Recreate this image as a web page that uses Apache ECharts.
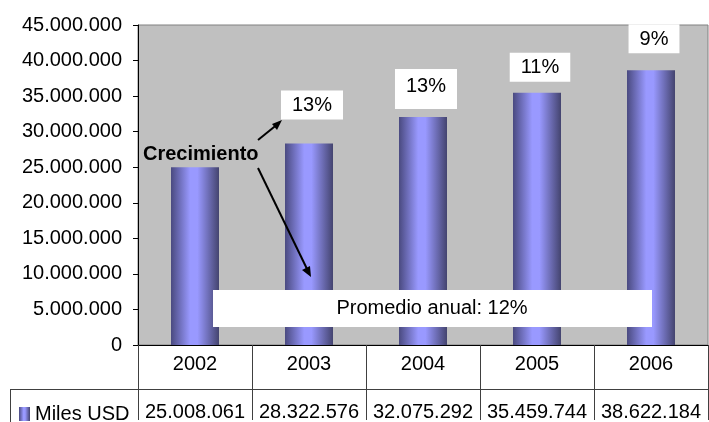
<!DOCTYPE html>
<html>
<head>
<meta charset="utf-8">
<script src="https://cdn.jsdelivr.net/npm/echarts@6/dist/echarts.min.js"></script>
<style>
  html, body { margin: 0; padding: 0; background: #fff; }
  #crecimiento { width: 709px; height: 422px; }
</style>
</head>
<body>
<div id="crecimiento"></div>
<script>
// datos del gráfico
var years = ['2002', '2003', '2004', '2005', '2006'];
var milesUSD = [25008061, 28322576, 32075292, 35459744, 38622184];
var growth = [null, 13, 13, 11, 9];
var yTicks = [0, 5000000, 10000000, 15000000, 20000000, 25000000, 30000000, 35000000, 40000000, 45000000];

// separación y relleno de las etiquetas (estilo, no datos)
var labelGap = [0, 24, 8, 11, 17];
var labelPad = [
    null,
    [5, 11, 4, 11],
    [8, 11, 12, 11],
    [5, 11, 4, 11],
    [5, 11, 4, 11]
];

var FONT = '"Liberation Sans", Arial, sans-serif';

function fmt (n) {
    return String(n).replace(/\B(?=(\d{3})+(?!\d))/g, '.');
}

var barColor = new echarts.graphic.LinearGradient(0, 0, 1, 0, [
    { offset: 0, color: '#4a4a80' },
    { offset: 0.4, color: '#9999ff' },
    { offset: 0.55, color: '#9999ff' },
    { offset: 1, color: '#44446f' }
]);

var chart = echarts.init(document.getElementById('crecimiento'));

var option = {
    backgroundColor: '#fff',
    animation: false,
    textStyle: { fontFamily: FONT },
    grid: {
        left: 138,
        right: 1,
        top: 25,
        bottom: 75,
        show: true,
        backgroundColor: '#c0c0c0',
        borderColor: '#808080',
        borderWidth: 1
    },
    legend: {
        data: ['Miles USD'],
        left: 14,
        top: 399,
        icon: 'rect',
        itemWidth: 11,
        itemHeight: 14,
        itemGap: 6,
        textStyle: { fontSize: 20, color: '#000', fontFamily: FONT }
    },
    xAxis: {
        type: 'category',
        data: years,
        axisLine: { show: true, lineStyle: { color: '#000', width: 1 } },
        axisTick: { show: true, length: 75, lineStyle: { color: '#404040' } },
        axisLabel: {
            margin: 4,
            formatter: function (v, i) {
                return '{y|' + v + '}\n{v|' + fmt(milesUSD[i]) + '}';
            },
            rich: {
                y: { fontSize: 20, lineHeight: 30, color: '#000', fontFamily: FONT },
                v: { fontSize: 20, lineHeight: 66, color: '#000', fontFamily: FONT }
            }
        }
    },
    yAxis: {
        type: 'value',
        min: yTicks[0],
        max: yTicks[yTicks.length - 1],
        interval: yTicks[1] - yTicks[0],
        axisLine: { show: true, lineStyle: { color: '#000', width: 1 } },
        axisTick: { show: true, length: 5, lineStyle: { color: '#000' } },
        splitLine: { show: false },
        axisLabel: {
            margin: 16,
            fontSize: 20,
            color: '#000',
            fontFamily: FONT,
            formatter: function (v) { return fmt(v); }
        }
    },
    series: [{
        name: 'Miles USD',
        type: 'bar',
        barWidth: 48,
        itemStyle: { color: barColor },
        data: milesUSD.map(function (v, i) {
            var item = { value: v };
            if (growth[i] != null) {
                item.label = {
                    show: true,
                    position: 'top',
                    distance: labelGap[i],
                    offset: [3, 0],
                    formatter: growth[i] + '%',
                    backgroundColor: '#fff',
                    padding: labelPad[i],
                    fontSize: 20,
                    color: '#000',
                    fontFamily: FONT
                };
            }
            return item;
        })
    }],
    graphic: [
        // líneas de la tabla de datos
        { type: 'line', shape: { x1: 10, y1: 389.5, x2: 708, y2: 389.5 }, style: { stroke: '#404040', lineWidth: 1 } },
        { type: 'line', shape: { x1: 10.5, y1: 389, x2: 10.5, y2: 422 }, style: { stroke: '#404040', lineWidth: 1 } },
        // anotación "Crecimiento"
        {
            type: 'text', left: 143, top: 144, z: 10,
            style: { text: 'Crecimiento', font: 'bold 20px ' + FONT, fill: '#000' }
        },
        { type: 'line', z: 10, shape: { x1: 258, y1: 140, x2: 279, y2: 123 }, style: { stroke: '#000', lineWidth: 2 } },
        { type: 'polygon', z: 10, shape: { points: [[282, 120], [272, 124], [277, 130]] }, style: { fill: '#000' } },
        { type: 'line', z: 10, shape: { x1: 258, y1: 168, x2: 308, y2: 271 }, style: { stroke: '#000', lineWidth: 2 } },
        { type: 'polygon', z: 10, shape: { points: [[311, 277], [302, 270], [310, 266]] }, style: { fill: '#000' } },
        // caja "Promedio anual"
        { type: 'rect', z: 10, shape: { x: 213, y: 290, width: 439, height: 37 }, style: { fill: '#fff' } },
        {
            type: 'text', z: 11, x: 432, y: 308,
            style: { text: 'Promedio anual: 12%', font: '20px ' + FONT, fill: '#000', align: 'center', verticalAlign: 'middle' }
        }
    ]
};

chart.setOption(option);
</script>
</body>
</html>
